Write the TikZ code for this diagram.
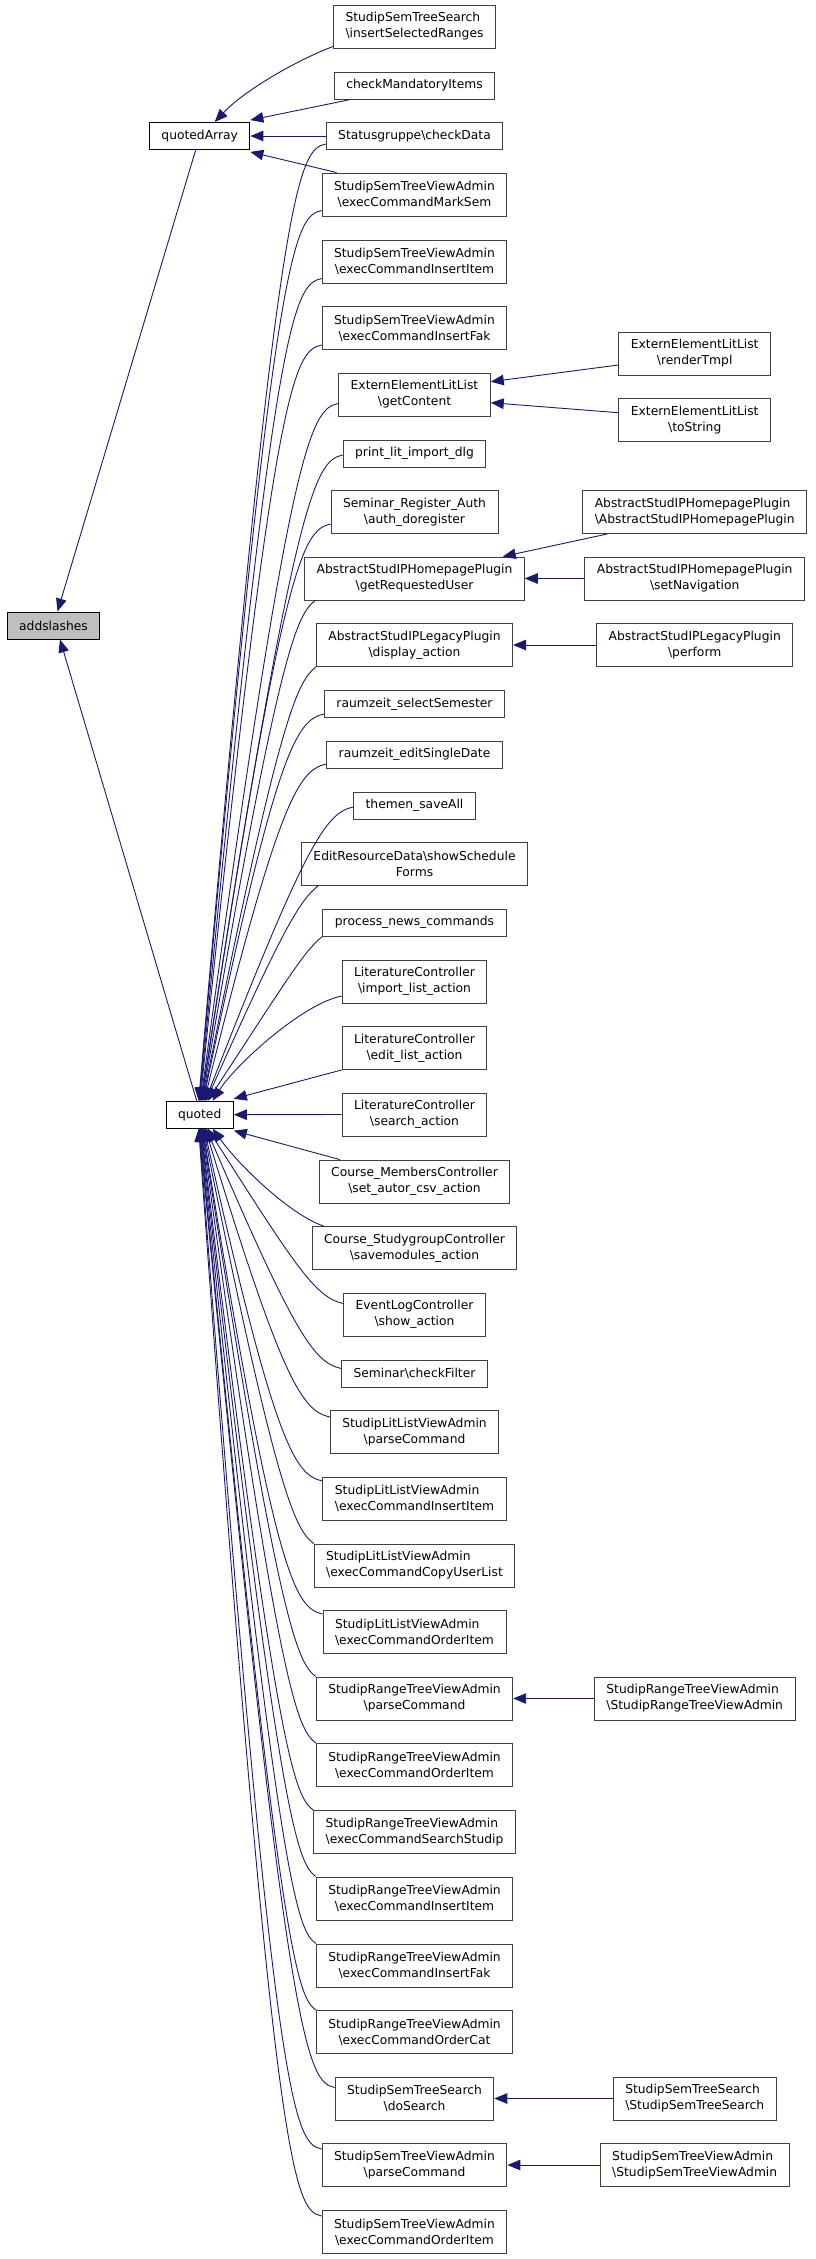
\documentclass[tikz,border=0pt]{standalone}
\usepackage{fontspec}
\setmainfont{DejaVu Sans}
\usetikzlibrary{arrows.meta,calc}
\definecolor{edgecol}{HTML}{191970}
\definecolor{boxcol}{HTML}{404040}
\definecolor{hlfill}{HTML}{BFBFBF}
\newcommand\bs{\textbackslash}
% curve into quoted from a node above (start on left side)
\newcommand\qtop[2]{\path (#1) coordinate (qs);
  \draw[edge] (qs) .. controls ($(qs)+(-28,6)$) and ($(qs)+(-48,38)$) .. ([xshift=#2pt]quoted.north);}
% curve into quoted from a node above (start on bottom edge/corner)
\newcommand\qtopc[2]{\path (#1) coordinate (qs);
  \draw[edge] (qs) .. controls ($(qs)+(-18,14)$) and ($(qs)+(-36,44)$) .. ([xshift=#2pt]quoted.north);}
% curve into quoted from a node below (start on left side)
\newcommand\qbot[2]{\path (#1) coordinate (qs);
  \draw[edge] (qs) .. controls ($(qs)+(-28,-6)$) and ($(qs)+(-48,-38)$) .. ([xshift=#2pt]quoted.south);}
% curve into quoted from a node below (start on top corner)
\newcommand\qbotc[2]{\path (#1) coordinate (qs);
  \draw[edge] (qs) .. controls ($(qs)+(-18,-14)$) and ($(qs)+(-36,-44)$) .. ([xshift=#2pt]quoted.south);}
\begin{document}
\begin{tikzpicture}[x=1pt,y=-1pt,
  base/.style={draw=boxcol, line width=0.9pt, fill=white,
    font=\fontsize{12.3}{16}\selectfont, inner xsep=12pt, inner ysep=0pt, align=center},
  one/.style={base, minimum height=27pt},
  two/.style={base, minimum height=43pt},
  twol/.style={two, align=left},
  edge/.style={draw=edgecol, line width=0.9pt, -{Triangle[length=13pt,width=10.5pt]}},
]
\fill[white] (0,0) rectangle (816,2259);
\useasboundingbox (0,0) rectangle (816,2259);

% left column
\node[one, fill=hlfill, draw=black] (addslashes) at (53.5,625.5) {addslashes};
\node[one, draw=black] (quotedArray) at (199.7,136) {quotedArray};
\node[one, draw=black] (quoted) at (199.7,1114.7) {quoted};

% middle column
\node[twol] (insSel) at (414.5,26.5) {StudipSemTreeSearch\\\bs insertSelectedRanges};
\node[one] (checkMand) at (414.5,85.5) {checkMandatoryItems};
\node[one] (checkData) at (414.5,136) {Statusgruppe\bs checkData};
\node[two] (markSem) at (414.5,194.5) {StudipSemTreeViewAdmin\\\bs execCommandMarkSem};
\node[two] (semInsItem) at (414.5,261.5) {StudipSemTreeViewAdmin\\\bs execCommandInsertItem};
\node[two] (semInsFak) at (414.5,328) {StudipSemTreeViewAdmin\\\bs execCommandInsertFak};
\node[two] (getContent) at (414.5,394.5) {ExternElementLitList\\\bs getContent};
\node[one] (printLit) at (414.5,453.5) {print\_lit\_import\_dlg};
\node[two] (regAuth) at (414.5,512) {Seminar\_Register\_Auth\\\bs auth\_doregister};
\node[two] (getReqUser) at (414.5,578.5) {AbstractStudIPHomepagePlugin\\\bs getRequestedUser};
\node[two] (displayAction) at (414.5,645) {AbstractStudIPLegacyPlugin\\\bs display\_action};
\node[one] (selSem) at (414.5,704) {raumzeit\_selectSemester};
\node[one] (editSD) at (414.5,754.5) {raumzeit\_editSingleDate};
\node[one] (themen) at (414.5,805.5) {themen\_saveAll};
\node[two] (editRes) at (414.5,864) {EditResourceData\bs showSchedule\\Forms};
\node[one] (news) at (414.5,922.5) {process\_news\_commands};
\node[two] (importList) at (414.5,981.5) {LiteratureController\\\bs import\_list\_action};
\node[two] (editList) at (414.5,1048) {LiteratureController\\\bs edit\_list\_action};
\node[two] (searchAction) at (414.5,1114.5) {LiteratureController\\\bs search\_action};
\node[two] (members) at (414.5,1181.5) {Course\_MembersController\\\bs set\_autor\_csv\_action};
\node[two] (studygroup) at (414.5,1248) {Course\_StudygroupController\\\bs savemodules\_action};
\node[two] (eventLog) at (414.5,1314.5) {EventLogController\\\bs show\_action};
\node[one] (checkFilter) at (414.5,1373.5) {Seminar\bs checkFilter};
\node[two] (litParse) at (414.5,1432) {StudipLitListViewAdmin\\\bs parseCommand};
\node[twol] (litInsItem) at (414.5,1498.5) {StudipLitListViewAdmin\\\bs execCommandInsertItem};
\node[twol] (copyUser) at (414.5,1565.5) {StudipLitListViewAdmin\\\bs execCommandCopyUserList};
\node[twol] (litOrderItem) at (414.5,1632) {StudipLitListViewAdmin\\\bs execCommandOrderItem};
\node[two] (rangeParse) at (414.5,1698.5) {StudipRangeTreeViewAdmin\\\bs parseCommand};
\node[two] (rangeOrderItem) at (414.5,1765) {StudipRangeTreeViewAdmin\\\bs execCommandOrderItem};
\node[twol] (searchStudip) at (414.5,1832) {StudipRangeTreeViewAdmin\\\bs execCommandSearchStudip};
\node[two] (rangeInsItem) at (414.5,1898.5) {StudipRangeTreeViewAdmin\\\bs execCommandInsertItem};
\node[two] (rangeInsFak) at (414.5,1965.5) {StudipRangeTreeViewAdmin\\\bs execCommandInsertFak};
\node[two] (orderCat) at (414.5,2032) {StudipRangeTreeViewAdmin\\\bs execCommandOrderCat};
\node[two] (doSearch) at (414.5,2098.5) {StudipSemTreeSearch\\\bs doSearch};
\node[two] (semParse) at (414.5,2165) {StudipSemTreeViewAdmin\\\bs parseCommand};
\node[two] (semOrderItem) at (414.5,2232) {StudipSemTreeViewAdmin\\\bs execCommandOrderItem};

% right column
\node[two] (renderTmpl) at (694.7,353.5) {ExternElementLitList\\\bs renderTmpl};
\node[two] (toString) at (694.7,420) {ExternElementLitList\\\bs toString};
\node[twol] (hpCtor) at (694.7,512) {AbstractStudIPHomepagePlugin\\\bs AbstractStudIPHomepagePlugin};
\node[two] (setNav) at (694.7,578.5) {AbstractStudIPHomepagePlugin\\\bs setNavigation};
\node[two] (perform) at (694.7,645) {AbstractStudIPLegacyPlugin\\\bs perform};
\node[twol] (rangeCtor) at (694.7,1698.5) {StudipRangeTreeViewAdmin\\\bs StudipRangeTreeViewAdmin};
\node[twol] (semSearchCtor) at (694.7,2098.5) {StudipSemTreeSearch\\\bs StudipSemTreeSearch};
\node[twol] (semAdminCtor) at (694.7,2165) {StudipSemTreeViewAdmin\\\bs StudipSemTreeViewAdmin};

% edges into addslashes
\draw[edge] ([xshift=-4pt]quotedArray.south) -- ([xshift=4pt]addslashes.north);
\draw[edge] ([xshift=-3pt]quoted.north) -- ([xshift=6.5pt]addslashes.south);

% edges into quotedArray
\draw[edge] ([yshift=-20pt]insSel.west) .. controls +(-35,13) and +(30,-32) .. ([xshift=15pt]quotedArray.north);
\draw[edge] ([xshift=17pt]checkMand.south west) -- ([yshift=2pt]quotedArray.north east);
\draw[edge] (checkData.west) -- (quotedArray.east);
\draw[edge] ([xshift=15pt]markSem.north west) -- ([yshift=-2pt]quotedArray.south east);

% edges into quoted from above
\qtop{[yshift=-8pt]checkData.west}{-1}
\qtop{[yshift=-16pt]markSem.west}{-0.5}
\qtop{[yshift=-17pt]semInsItem.west}{0}
\qtop{[yshift=-17pt]semInsFak.west}{0.5}
\qtop{[yshift=-9pt]getContent.west}{1}
\qtop{[yshift=-1.5pt]printLit.west}{1.5}
\qtop{[yshift=-12pt]regAuth.west}{2}
\qtopc{[xshift=11pt]getReqUser.south west}{2.5}
\qtopc{displayAction.south west}{3}
\qtop{[yshift=-10pt]selSem.west}{3.5}
\qtop{[yshift=-9.5pt]editSD.west}{4.5}
\qtop{[yshift=-1.5pt]themen.west}{5.5}
\qtopc{[xshift=17pt]editRes.south west}{6.5}
\qtopc{news.south west}{8}
\draw[edge] ([yshift=-14.5pt]importList.west) .. controls +(-40,8) and +(22,-35) .. ([xshift=13pt]quoted.north);
\draw[edge] (editList.south west) -- ([yshift=2pt]quoted.north east);
\draw[edge] (searchAction.west) -- (quoted.east);
\draw[edge] ([xshift=21pt]members.north west) -- ([yshift=-2pt]quoted.south east);
\draw[edge] ([xshift=12pt]studygroup.north west) .. controls +(-35,-12) and +(25,35) .. ([xshift=13pt]quoted.south);

% edges into quoted from below
\qbot{[yshift=11pt]eventLog.west}{8}
\qbot{[yshift=5pt]checkFilter.west}{6.5}
\qbot{[yshift=15pt]litParse.west}{5.5}
\qbot{[yshift=17.5pt]litInsItem.west}{4.5}
\qbotc{copyUser.north west}{3.5}
\qbot{[yshift=18pt]litOrderItem.west}{3}
\qbotc{rangeParse.north west}{2.5}
\qbotc{rangeOrderItem.north west}{2}
\qbotc{searchStudip.north west}{1.5}
\qbotc{rangeInsItem.north west}{1}
\qbotc{rangeInsFak.north west}{0.5}
\qbotc{orderCat.north west}{0}
\qbot{[yshift=11pt]doSearch.west}{-0.5}
\qbot{[yshift=16pt]semParse.west}{-0.5}
\qbot{[yshift=16pt]semOrderItem.west}{-1}

% edges from right column
\draw[edge] ([yshift=-11.5pt]renderTmpl.west) -- ([yshift=12.8pt]getContent.east);
\draw[edge] ([yshift=7.3pt]toString.west) -- ([yshift=-8.2pt]getContent.east);
\draw[edge] ([xshift=25pt]hpCtor.south west) -- ([xshift=-22pt]getReqUser.north east);
\draw[edge] (setNav.west) -- (getReqUser.east);
\draw[edge] (perform.west) -- (displayAction.east);
\draw[edge] (rangeCtor.west) -- (rangeParse.east);
\draw[edge] (semSearchCtor.west) -- (doSearch.east);
\draw[edge] (semAdminCtor.west) -- (semParse.east);
\end{tikzpicture}
\end{document}
